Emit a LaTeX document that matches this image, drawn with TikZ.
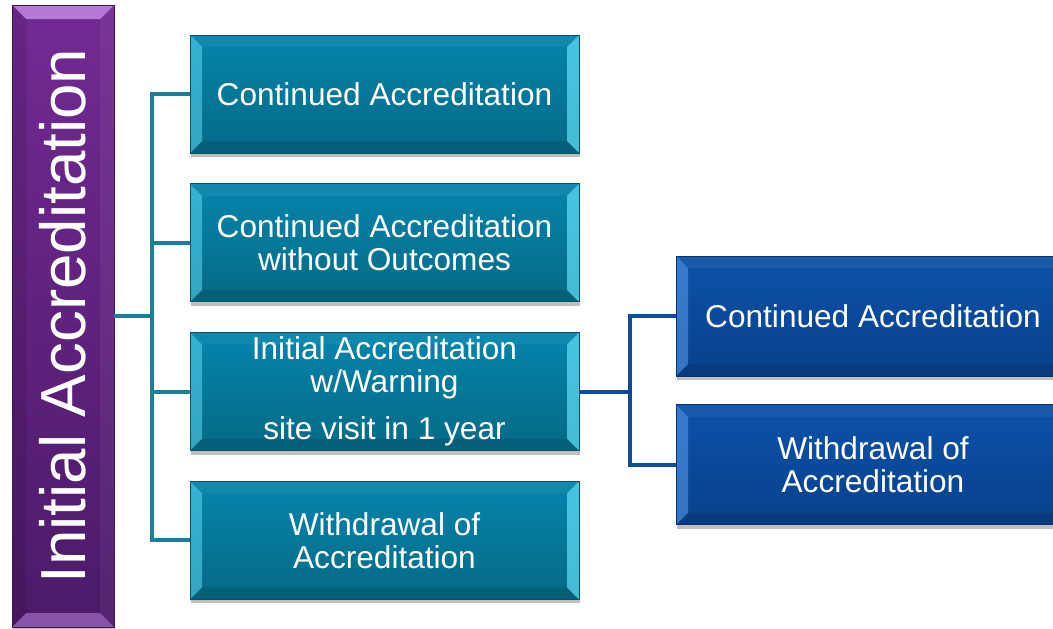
\documentclass[tikz,border=0pt]{standalone}
\usepackage{fontspec}
\setmainfont{Liberation Sans}
\usetikzlibrary{positioning, shadows}
\definecolor{tealtop}{HTML}{0584AC}
\definecolor{tealbot}{HTML}{056A85}
\definecolor{tealedge}{HTML}{5CD8F2}
\definecolor{tealline}{HTML}{17809B}
\definecolor{navytop}{HTML}{0C52A8}
\definecolor{navybot}{HTML}{08418C}
\definecolor{navyedge}{HTML}{5A9EEA}
\definecolor{navyline}{HTML}{0F4C9C}
\definecolor{plumtop}{HTML}{722A93}
\definecolor{plumbot}{HTML}{4C1A68}
\definecolor{plumedge}{HTML}{C98DE8}
\tikzset{
  boxfont/.style={font=\fontsize{31.6}{33}\selectfont, text=white, align=center},
  % bevel with bright left/right faces
  sidebevel/.style={path picture={
      \path (path picture bounding box.north west) coordinate (bvnw)
            (path picture bounding box.north east) coordinate (bvne)
            (path picture bounding box.south west) coordinate (bvsw)
            (path picture bounding box.south east) coordinate (bvse);
      \fill[white, opacity=0.05] (bvnw) -- (bvne) -- ([shift={(-12pt,-12pt)}]bvne) -- ([shift={(12pt,-12pt)}]bvnw) -- cycle;
      \fill[black, opacity=0.10] (bvsw) -- (bvse) -- ([shift={(-12pt,12pt)}]bvse) -- ([shift={(12pt,12pt)}]bvsw) -- cycle;
      \fill[#1, opacity=0.55] (bvnw) -- ([shift={(12pt,-12pt)}]bvnw) -- ([shift={(12pt,12pt)}]bvsw) -- (bvsw) -- cycle;
      \fill[#1, opacity=0.75] (bvne) -- ([shift={(-12pt,-12pt)}]bvne) -- ([shift={(-12pt,12pt)}]bvse) -- (bvse) -- cycle;
  }},
  % bevel with bright top/bottom faces
  capbevel/.style={path picture={
      \path (path picture bounding box.north west) coordinate (bvnw)
            (path picture bounding box.north east) coordinate (bvne)
            (path picture bounding box.south west) coordinate (bvsw)
            (path picture bounding box.south east) coordinate (bvse);
      \fill[#1, opacity=0.8] (bvnw) -- (bvne) -- ([shift={(-14pt,-14pt)}]bvne) -- ([shift={(14pt,-14pt)}]bvnw) -- cycle;
      \fill[#1, opacity=0.5] (bvsw) -- (bvse) -- ([shift={(-14pt,14pt)}]bvse) -- ([shift={(14pt,14pt)}]bvsw) -- cycle;
      \fill[black, opacity=0.10] (bvnw) -- ([shift={(14pt,-14pt)}]bvnw) -- ([shift={(14pt,14pt)}]bvsw) -- (bvsw) -- cycle;
      \fill[white, opacity=0.05] (bvne) -- ([shift={(-14pt,-14pt)}]bvne) -- ([shift={(-14pt,14pt)}]bvse) -- (bvse) -- cycle;
  }},
  softshadow/.style={drop shadow={shadow xshift=1pt, shadow yshift=-4pt, opacity=0.25, fill=black}},
  plumbox/.style={boxfont, top color=plumtop, bottom color=plumbot, draw=plumbot!80!black, line width=0.8pt, capbevel=plumedge, softshadow, inner sep=0pt, minimum width=102pt, minimum height=622pt},
  tealbox/.style={boxfont, top color=tealtop, bottom color=tealbot, draw=tealbot!80!black, line width=0.8pt, sidebevel=tealedge, softshadow, inner sep=0pt, minimum width=389pt, minimum height=118pt},
  navybox/.style={boxfont, top color=navytop, bottom color=navybot, draw=navybot!80!black, line width=0.8pt, sidebevel=navyedge, softshadow, inner sep=0pt, minimum width=394pt, minimum height=120pt},
  tealink/.style={draw=tealline, line width=4pt},
  navylink/.style={draw=navyline, line width=4pt},
}

\begin{document}
\begin{tikzpicture}[x=1pt, y=-1pt]
  \useasboundingbox (0,0) rectangle (1053,629);

  % root
  \node[plumbox] (init) at (63,316)
    {\fontsize{63.7}{66}\selectfont\rotatebox{90}{Initial Accreditation}};

  % first level outcomes
  \node[tealbox] (cont) at (384.5,94) {Continued Accreditation};
  \node[tealbox, below=30pt of cont] (cwo) {Continued Accreditation\\without Outcomes};
  \node[tealbox, below=30pt of cwo] (warn) {Initial Accreditation\\w/Warning\\[14pt]site visit in 1 year};
  \node[tealbox, below=30pt of warn] (wdr) {Withdrawal of\\Accreditation};

  % after the warning visit
  \node[navybox] (rcont) at (873,316) {Continued Accreditation};
  \node[navybox, below=28pt of rcont] (rwdr) {Withdrawal of\\Accreditation};

  \foreach \n in {cont,cwo,warn,wdr}
    \draw[tealink] (init.east) -- ++(38,0) |- (\n.west);
  \foreach \n in {rcont,rwdr}
    \draw[navylink] (warn.east) -- ++(51,0) |- (\n.west);
\end{tikzpicture}
\end{document}
